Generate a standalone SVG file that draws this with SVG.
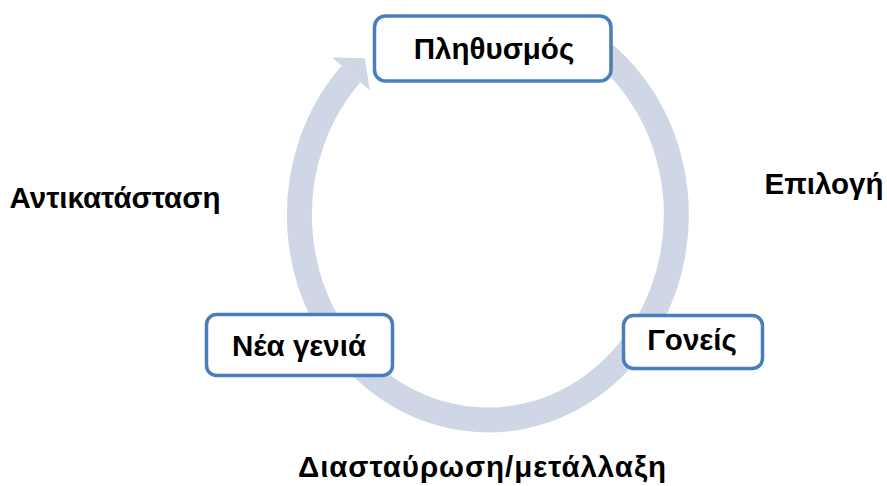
<svg xmlns="http://www.w3.org/2000/svg" width="887" height="486" viewBox="0 0 887 486">
  <style>
    .ring { fill: none; stroke: #cfd7e7; stroke-width: 25; }
    .head { fill: #cfd7e7; }
    .box { fill: #ffffff; stroke: #4a7ebb; stroke-width: 3.5; }
    .lbl { font-family: "Liberation Sans", Arial, sans-serif; font-weight: bold; font-size: 29.5px; fill: #000000; text-anchor: middle; }
  </style>
  <rect width="887" height="486" fill="#ffffff"/>

  <!-- cycle arrow: elliptical band running clockwise, head pointing at the top node -->
  <g id="connectors">
    <path class="ring" d="M 580 36.1 A 188.5 205 0 1 1 351 74"/>
    <polygon class="head" points="332.2,57.6 364.8,58.2 369.9,90.4"/>
  </g>

  <g id="node-plithysmos">
    <rect class="box" x="374.5" y="16" width="236.5" height="65" rx="11"/>
    <text class="lbl" x="494" y="59">Πληθυσμός</text>
  </g>

  <g id="node-goneis">
    <rect class="box" x="623.5" y="315.5" width="139" height="53" rx="10"/>
    <text class="lbl" x="692" y="350">Γονείς</text>
  </g>

  <g id="node-nea-genia">
    <rect class="box" x="206.5" y="314.5" width="186" height="61" rx="10"/>
    <text class="lbl" x="299" y="356">Νέα γενιά</text>
  </g>

  <g id="label-epilogi">
    <text class="lbl" x="824" y="194">Επιλογή</text>
  </g>
  <g id="label-antikatastasi">
    <text class="lbl" x="115" y="208">Αντικατάσταση</text>
  </g>
  <g id="label-diastavrosi">
    <text class="lbl" x="482" y="477" textLength="368" lengthAdjust="spacing">Διασταύρωση/μετάλλαξη</text>
  </g>
</svg>
